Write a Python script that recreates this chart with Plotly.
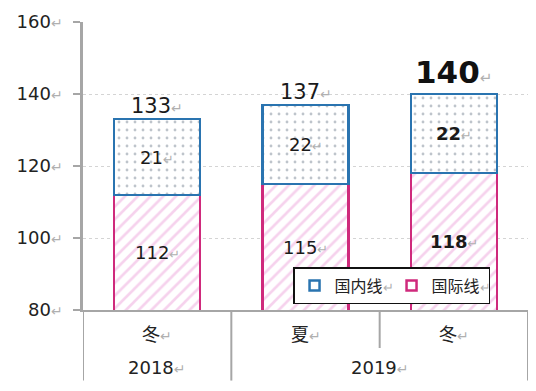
import plotly.graph_objects as go

# ---- data ----
years = ["2018", "2019", "2019"]
seasons = ["冬", "夏", "冬"]
international = [112, 115, 118]   # 国际线
domestic = [21, 22, 22]           # 国内线
totals = [133, 137, 140]
series_names = ["国内线", "国际线"]
y_ticks = [80, 100, 120, 140, 160]

AX_MIN, AX_MAX = 80, 160
BLUE = "#2a74b0"
MAG = "#cf2a7c"
PINK = "#eea6dc"
GRAY = "#a6a6a6"
NUM_FONT = "DejaVu Sans"
CJK_FONT = "Noto Sans CJK JP"

def ret(size=13):
    return f"<span style='color:#b0b0b0;font-size:{size}px'>↵</span>"

cats = [f"{y}-{s}-{i}" for i, (y, s) in enumerate(zip(years, seasons))]

fig = go.Figure()
fig.add_trace(go.Bar(
    x=cats, y=international, name=series_names[1], showlegend=False,
    marker=dict(color="white", line=dict(color=MAG, width=2.5),
                pattern=dict(shape="/", fgcolor=PINK, bgcolor="white", size=9, solidity=0.3)),
    hoverinfo="skip"))
fig.add_trace(go.Bar(
    x=cats, y=domestic, name=series_names[0], showlegend=False,
    marker=dict(color="white", line=dict(color=BLUE, width=2.5),
                pattern=dict(shape=".", fgcolor="#7d8a98", bgcolor="white", size=8, solidity=0.1)),
    hoverinfo="skip"))

# legend proxies
fig.add_trace(go.Scatter(x=[None], y=[None], mode="markers", name=series_names[0] + ret(13),
                         marker=dict(symbol="square-open", size=10, color=BLUE, line=dict(width=2.5))))
fig.add_trace(go.Scatter(x=[None], y=[None], mode="markers", name=series_names[1] + ret(13),
                         marker=dict(symbol="square-open", size=10, color=MAG, line=dict(width=2.5))))

annotations = []
shapes = []
n = len(cats)
for i in range(n):
    last = (i == n - 1)
    lo = max(0, AX_MIN)
    mid_int = (lo + international[i]) / 2
    txt = f"<b>{international[i]}</b>" if last else f"{international[i]}"
    annotations.append(dict(x=i, y=mid_int, xref="x", yref="y", showarrow=False,
                            text=txt + ret(13), font=dict(family=NUM_FONT, size=18, color="#1a1a1a")))
    mid_dom = international[i] + domestic[i] / 2
    txt = f"<b>{domestic[i]}</b>" if last else f"{domestic[i]}"
    annotations.append(dict(x=i, y=mid_dom, xref="x", yref="y", showarrow=False,
                            text=txt + ret(13), font=dict(family=NUM_FONT, size=18, color="#1a1a1a")))
    if last:
        annotations.append(dict(x=i, y=totals[i], xref="x", yref="y", showarrow=False,
                                yanchor="bottom", yshift=2,
                                text=f"<b>{totals[i]}</b>" + ret(15),
                                font=dict(family=NUM_FONT, size=31, color="#111")))
    else:
        annotations.append(dict(x=i, y=totals[i], xref="x", yref="y", showarrow=False,
                                yanchor="bottom", yshift=-1,
                                text=f"{totals[i]}" + ret(14),
                                font=dict(family=NUM_FONT, size=21, color="#1a1a1a")))
    annotations.append(dict(x=i, y=-0.08, xref="x", yref="paper", showarrow=False,
                            yanchor="middle",
                            text=seasons[i] + ret(14),
                            font=dict(family=CJK_FONT, size=18, color="#222")))

groups = {}
for i, y in enumerate(years):
    groups.setdefault(y, []).append(i)
for y, idx in groups.items():
    xc = (min(idx) + max(idx)) / 2
    annotations.append(dict(x=xc, y=-0.2, xref="x", yref="paper", showarrow=False,
                            yanchor="middle",
                            text=y + ret(14),
                            font=dict(family=NUM_FONT, size=18, color="#222")))

for b in range(n + 1):
    xb = b - 0.5
    if b == 0 or b == n:
        y1 = -0.245
    else:
        same_group = years[b - 1] == years[b]
        y1 = -0.132 if same_group else -0.245
    shapes.append(dict(type="line", xref="x", yref="paper", x0=xb, x1=xb, y0=0, y1=y1,
                       line=dict(color=GRAY, width=2)))

# page body has an 8px margin: figure is sized to fit the window
fig.update_layout(
    width=528, height=383,
    margin=dict(l=75, r=8, t=14, b=81, autoexpand=False),
    plot_bgcolor="white", paper_bgcolor="white",
    barmode="stack", bargap=0.42,
    annotations=annotations, shapes=shapes,
    showlegend=True,
    legend=dict(orientation="h", x=0.472, y=0.149, xanchor="left", yanchor="top",
                traceorder="normal",
                bgcolor="white", bordercolor="#111", borderwidth=1.5,
                font=dict(family=CJK_FONT, size=16, color="#222"),
                itemwidth=30, tracegroupgap=0,
                entrywidth=52, entrywidthmode="pixels"),
)
fig.update_xaxes(type="category", range=[-0.5, n - 0.5], showticklabels=False, automargin=False,
                 showline=True, linecolor=GRAY, linewidth=2, showgrid=False, ticks="")
fig.update_yaxes(range=[AX_MIN, AX_MAX], tickvals=y_ticks, automargin=False,
                 ticktext=[f"{v}" + ret(14) for v in y_ticks],
                 tickfont=dict(family=NUM_FONT, size=18, color="#222"),
                 ticks="outside", ticklen=7, tickcolor=GRAY, tickwidth=1.5,
                 ticklabelstandoff=7,
                 showline=True, linecolor=GRAY, linewidth=2.5,
                 showgrid=True, gridcolor="#d4d4d4", griddash="dot", gridwidth=1,
                 zeroline=False)

fig.write_html("out.html")
